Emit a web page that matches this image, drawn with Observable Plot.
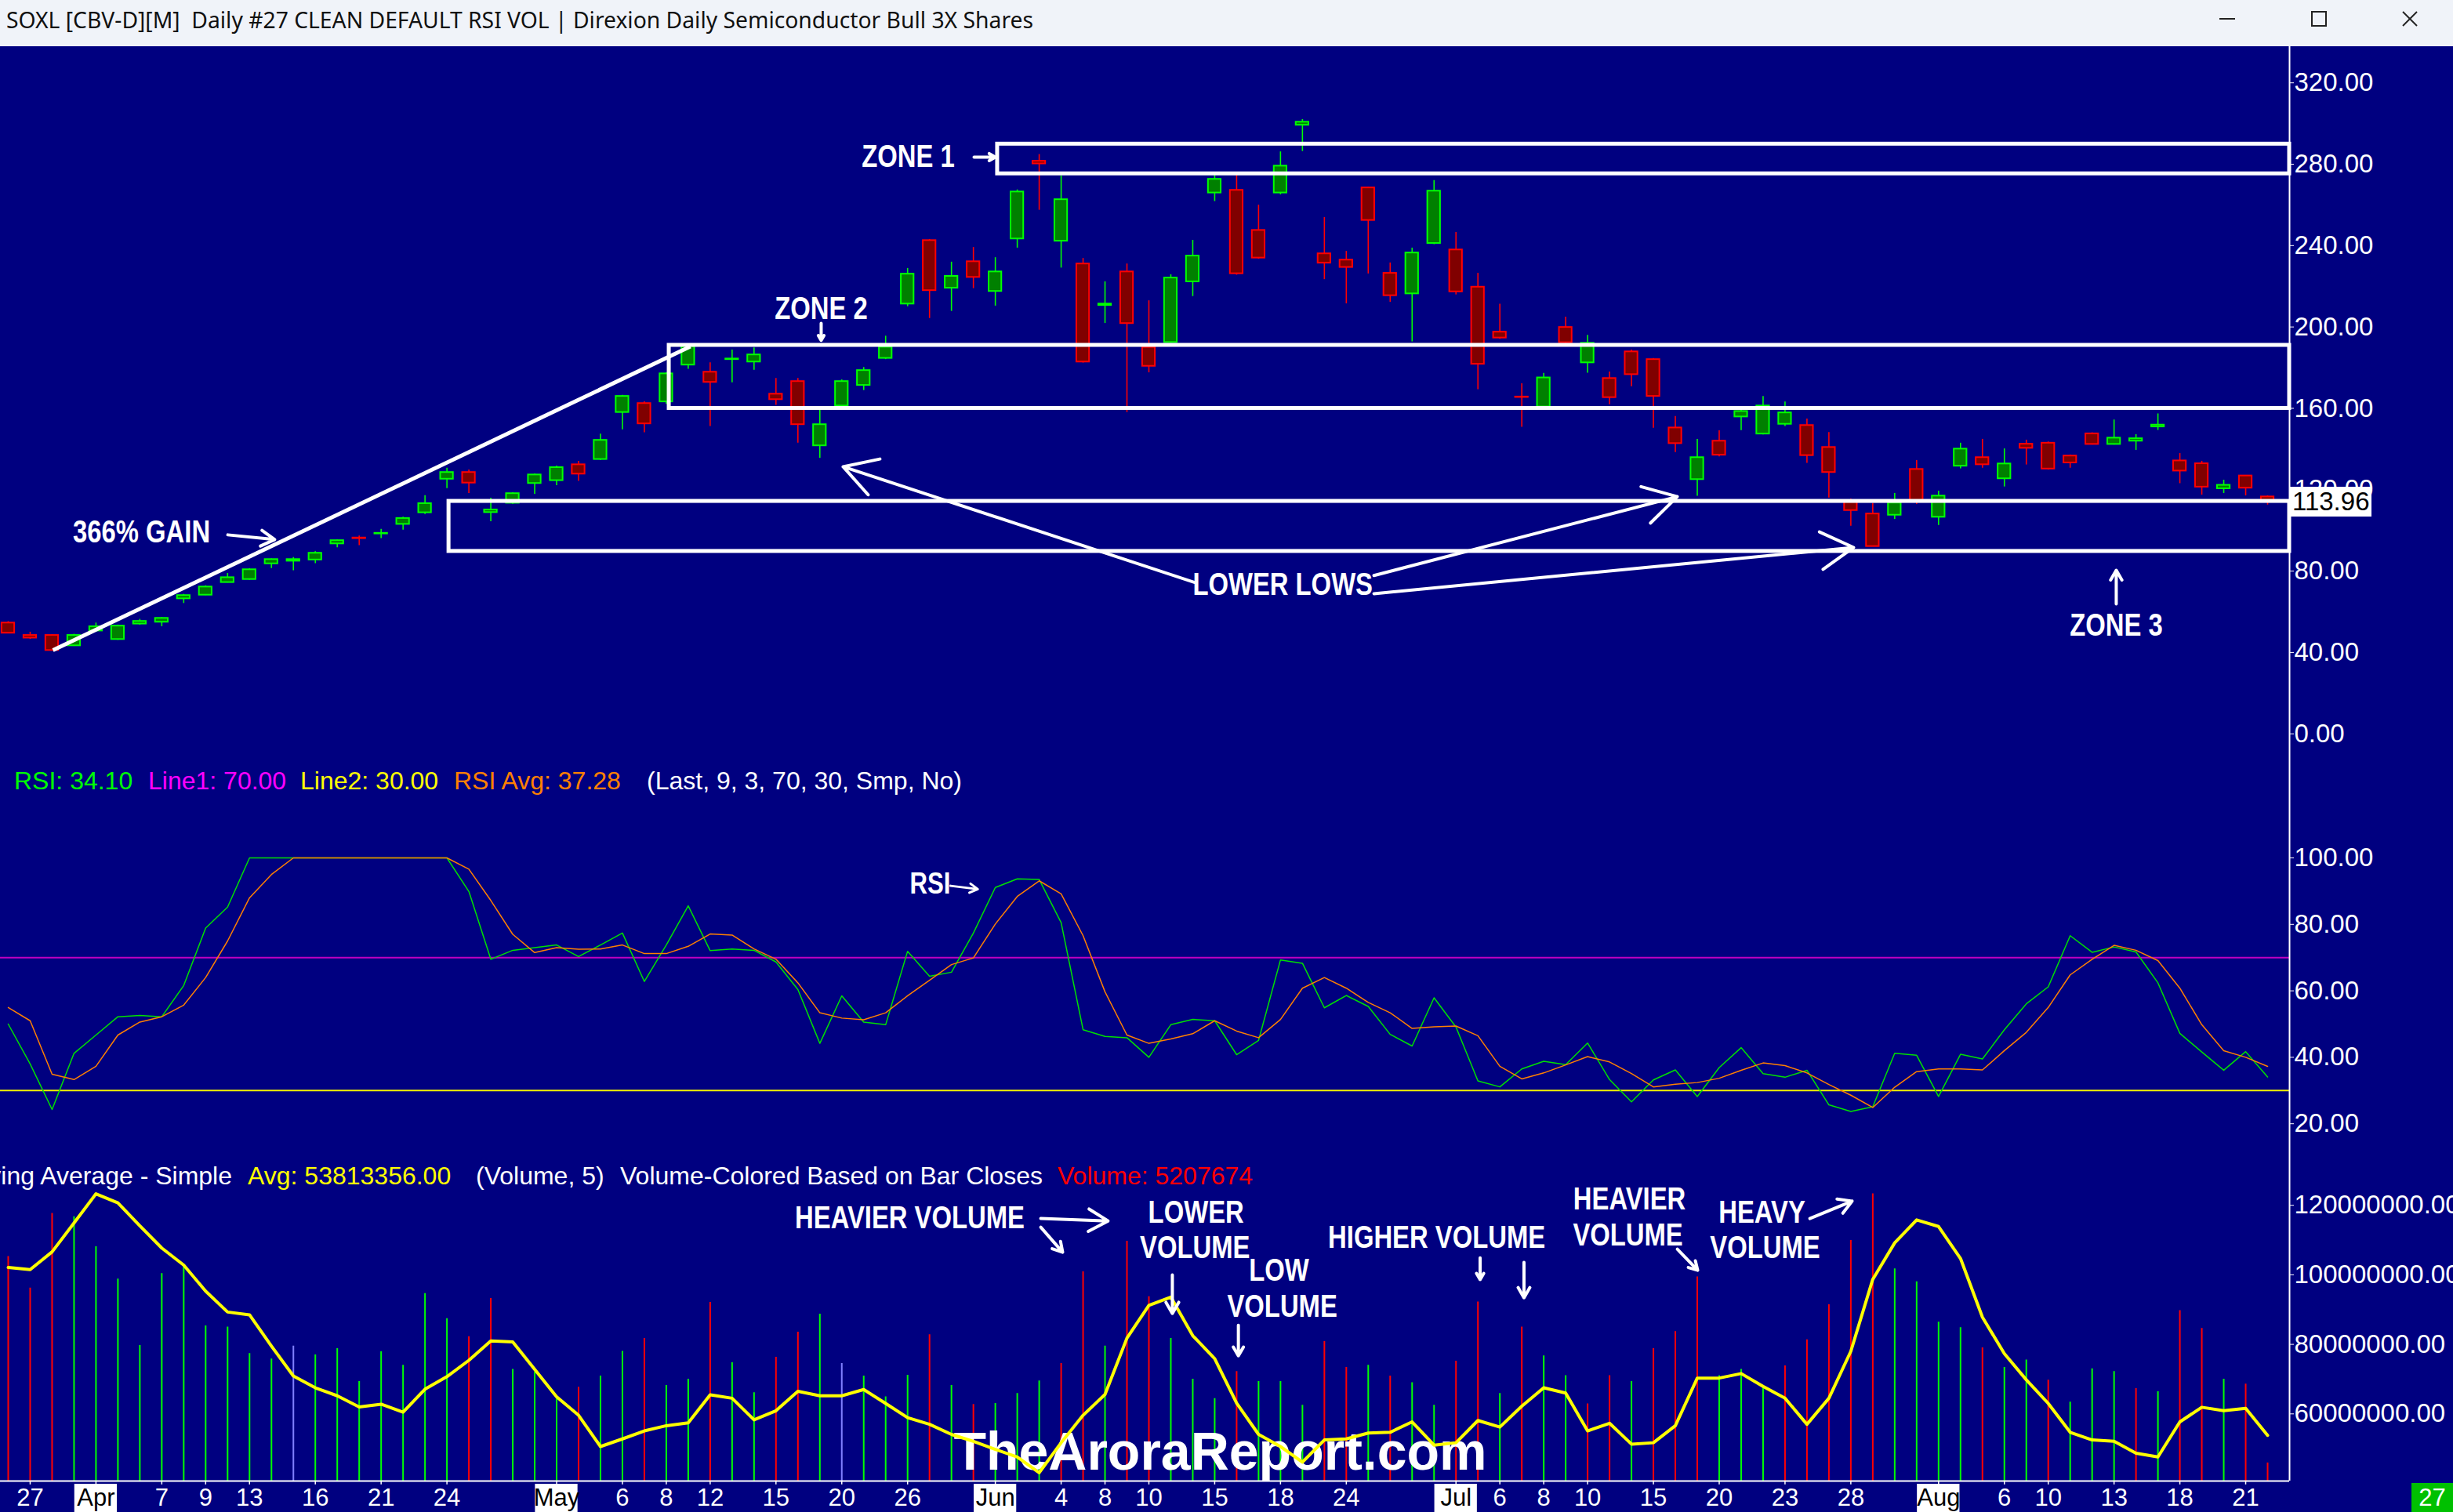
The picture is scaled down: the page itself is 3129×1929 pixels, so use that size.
<!DOCTYPE html>
<html><head><meta charset="utf-8">
<script src="https://cdn.jsdelivr.net/npm/d3@7"></script>
<script src="https://cdn.jsdelivr.net/npm/@observablehq/plot@0.6"></script>
<style>
html,body{margin:0;padding:0;background:#000080;}
#root{position:relative;width:3129px;height:1929px;background:#000080;overflow:hidden;font-family:"Liberation Sans",Arial,sans-serif;}
.leg{position:absolute;font-size:32px;line-height:36px;white-space:pre;}
</style></head><body><div id="root"></div>
<script>
// ---------------- DATA ----------------
const open = [54.5,48.4,48.4,43.3,50.6,46.4,54,54.9,66.4,68.2,
 74.4,75.9,83.6,84.9,85.5,93.4,96.3,98.3,103,108.7,
 125.2,128.5,108.8,113.4,123.1,124.5,132.3,134.9,158,162.4,
 163.2,181.3,177.8,184,182.8,167,173.2,141.6,161.2,171.3,
 184.6,211.3,242.5,219.1,232.1,217.5,243.3,281.5,242.2,231,
 210.6,227.1,190,192.4,222.2,265.9,267.2,247.5,265.9,299.2,
 236,232.9,268.4,226.4,216.3,241.1,237.9,219.6,197.5,165.6,
 160.7,199.8,182.4,174.7,187.8,184,150.4,125,143.9,155.8,
 147.4,152.2,151.6,140.8,114.3,108.1,107.5,130,106.5,131.6,
 135.8,125.4,142.4,142.9,136.6,147.5,142.3,143.9,150.9,134.2,
 132.8,120.5,126.8,116.5];
const high = [55.2,50,48.8,49,54.5,53.5,56.3,57.2,68.6,72.8,
 78.9,81.2,86,86.7,89.6,95.3,97.3,100.5,106.5,117.1,
 130.6,129.7,115.9,118.6,127.8,131.7,134,147.4,166.4,163.3,
 177.5,191.5,182.4,188.7,189.7,174.7,174.7,160.8,174,180.1,
 195.5,228.8,243,231.9,239.1,234.1,267.4,284.8,274.3,233.7,
 222.2,231,212.9,225.7,242.6,275,274.6,259.9,286.1,302,
 253.8,237.2,268.8,231.5,238.8,272,246.5,226.4,211.2,172.1,
 177.2,204.9,195.9,177.9,188.7,184.5,156,144.8,149,160.8,
 165.9,163.2,154.8,148.1,115.5,113.3,118.2,134.4,119.3,142.9,
 144.8,140.1,144.4,143.5,137.1,148,154.3,147.1,157.3,137.8,
 134,124.7,127,117];
const low = [49.2,46.5,40.8,43,50.4,46,53.5,52.7,64.1,68,
 74.2,75.6,81.3,80.2,83.7,91.5,92.6,96,100.2,107.9,
 120.6,118.2,104.3,112.9,117.8,122,124.1,134.5,149.5,148,
 162,179.2,151.1,172.6,178.8,161.5,142.9,135.5,160.5,168.8,
 184,210,204.2,207.7,218.9,210.3,238.8,257.4,229,182.3,
 201.8,158,177.5,192,215,261.7,225.5,233.4,265,286.3,
 223.3,211.4,226.1,212.2,192.7,240.5,215.8,169.2,194,150.7,
 159.5,191.5,177.3,161.8,170.7,150.3,138.3,116.8,136.2,149.1,
 147,151.1,133,116,102.1,92,105.5,112.8,102.5,130.3,
 130.6,121.4,132.2,129.7,130.6,142,142,139.4,149.2,123,
 117.4,118.2,117,112.5];
const close = [49.5,47.1,41.0,48.4,52.7,53,55.3,56.8,68,72.2,
 76.8,80.7,85.7,85.7,88.8,95,96.0,98.6,105.9,113.2,
 128.5,123.3,110.1,118.1,127.3,130.9,127.7,144.3,165.9,152.4,
 177,190.4,172.8,184.3,186.3,164.3,152,152,173.2,178.6,
 190.1,226,217.9,224.9,224.4,227.1,266.4,280.2,262.6,182.8,
 211.3,201.7,180.7,224.1,234.9,272.6,226.2,233.9,279.1,300.7,
 231.4,229.3,252.4,215.4,236.4,266.8,217.3,181.7,194.6,165.4,
 175,192.3,192.0,165.3,176.6,165.9,142.7,135.8,137,158.5,
 161.2,157.8,136.8,128.5,109.8,92.1,113.5,114.6,116.9,140,
 132.3,132.7,140.4,130.2,133.2,142.3,145.4,145.1,151.8,129.2,
 121.3,122.2,120.8,113.96];
const lastPrice = 113.96;

const rsi = [50,38,24.3,41.2,46.7,52.2,52.6,52.2,61.6,78.9,
 85.2,100,100,100,100,100,100,100,100,100,
 100,89.9,69.5,72.2,73,73.8,70.3,73.8,77.4,62.8,
 73.8,85.6,72.1,72.6,72.2,68.7,60.4,44.2,58.5,50.6,
 49.8,71.9,64.4,65.6,77.4,91.1,93.7,93.5,80.5,48.3,
 46.3,45.9,40,49.8,51.4,51,40.8,45.1,69.3,68.3,
 54.9,58.6,55.3,46.9,43.4,57.9,49.1,32.9,31.1,36.5,
 38.8,37.8,44.3,33.3,26.6,33.2,36.2,28.2,36.9,42.9,
 35.1,34,36.1,25.7,23.7,25.1,41.2,40.6,28.2,40.9,
 39.5,48.3,56.1,61.2,76.6,71.6,73.2,71.7,62.4,47.2,
 41.6,36.1,41.7,34.1];
const rsiAvg = [55,51,34.9,33.3,37.3,46.7,50.6,52.2,55.7,64,
 75,88,95,100,100,100,100,100,100,100,
 100,96.6,87.2,77,71.5,73,72.5,72.6,73.8,71.2,
 71.2,73.4,77.1,76.8,72.6,69.5,62.4,53.4,51.8,51.3,
 53.4,58.5,63.2,67.9,69.9,80.1,88.4,93.1,89.2,76.6,
 59.7,46.7,44.2,45.5,47.1,51,47.9,45.9,51.4,60.8,
 64,60.8,56.5,53.4,48.7,49.2,49.4,46.5,37.3,33.5,
 35.3,37.7,40.2,38.6,35.1,31.1,31.9,32.4,33.7,36.1,
 38.3,37.5,35.3,31.8,28.6,24.9,31,35.7,36.5,36.5,
 36.2,42,47.5,55,64.8,69.5,73.7,72.2,69.1,60.8,
 49.8,42,40,37.28];
const rsiLine1 = 70, rsiLine2 = 30;

// volume in millions of shares
const volume = [105.3,96.2,117.7,116.7,108.1,98.8,79.7,100.4,102.8,85.3,
 85.0,77.4,75.8,79.5,77.0,78.8,69.3,77.9,74.0,94.6,
 87.4,82.2,93.2,72.8,72.0,65.0,67.7,70.9,78.0,81.7,
 68.2,70.0,92.1,74.7,66.1,76.3,83.5,88.7,74.5,70.9,
 64.9,71.1,82.8,68.2,62.7,63.0,65.9,69.5,74.5,100.9,
 79.5,109.7,93.7,81.7,70.0,64.4,72.2,69.3,69.3,62.5,
 80.8,73.4,74.0,70.9,69.0,62.5,75.2,92.2,65.9,85.0,
 76.7,71.0,62.9,71.0,69.3,78.8,83.7,99.4,71.0,72.8,
 67.9,73.8,81.3,91.4,109.9,123.3,101.7,98.0,86.4,84.8,
 79.0,73.4,75.5,69.7,63.4,73.0,72.2,67.3,66.4,89.7,
 84.6,70.0,68.6,45.9];
const lastVolume = 5207674;
// close vs previous close: U up, D down, N unchanged
const volDir = "DDDUUUUUUU" + "UUUNUUUUUU" + "UDDUUUDUUD" + "UUDUUDDUNU" + "UUDUDUUUDD" +
  "UDDUUUDUUU" + "DDUDUUDDUD" + "UUDDUDDDUU" + "UDDDDDUUUU" + "DUUDUUUDUD" + "DUDD";
const volAvg = [102.1,101.5,106.6,114.9,123.3,120.7,114.1,107.7,102.8,95.3,
 89.3,88.5,79.5,70.9,67.5,65.2,62,62.8,60.5,67.1,
 70.7,75.4,81,80.7,72.8,64.9,59.6,50.6,52.8,55.1,
 56.6,57.4,65.5,64.5,58.3,60.9,66.5,65.2,65.2,67,
 63,58.9,57,54.1,52.1,49.8,47.6,43.1,51.7,59.6,
 65.6,81.8,91.2,93.6,82.5,75.9,63.1,54.1,50.6,46.1,
 52.5,52.8,54.5,54.7,57.7,51,51.7,58.1,56.2,62.2,
 67.5,66,55.1,57.3,51.3,51.7,56.6,70.3,70.3,71.6,
 67.9,64.5,57,64.5,78,98.7,109.2,115.8,113.9,104.7,
 87.8,77.3,69.8,63,54.7,52.5,52.1,48.7,47.6,57.7,
 61.9,60.9,61.6,53.813356];

const priceTicks = [0,40,80,120,160,200,240,280,320];
const rsiTicks = [20,40,60,80,100];
const volTicks = [60,80,100,120];

const dateTickIdx = [1,4,7,9,11,14,17,20,25,28,30,32,35,38,41,45,48,50,52,55,58,61,66,68,70,72,75,78,81,84,88,91,93,96,99,102];
const dateTickLabel = ["27","Apr","7","9","13","16","21","24","May","6","8","12","15","20","26","Jun","4","8","10","15","18","24","Jul","6","8","10","15","20","23","28","Aug","6","10","13","18","21"];
const monthNames = ["Apr","May","Jun","Jul","Aug"];
const currentDay = "27";

// zones (price bands drawn from a start bar to the right edge)
const zoneStart = [45.1, 30.13, 20.09];
const zoneHigh = [289.9, 191, 114.3];
const zoneLow = [275.3, 160, 89.7];

// annotations (bar index / value coordinates)
const trendLine = {x1: 2.04, y1: 41.1, x2: 31.1, y2: 190.4};
const priceNoteText = ["366% GAIN","ZONE 1","ZONE 2","LOWER LOWS","ZONE 3"];
const priceNoteX = [6.08, 41.03, 37.06, 58.1, 96.1];
const priceNoteY = [98.9, 283.5, 208.7, 73.1, 53.1];
const priceArrows = [
  {x1: 10.01, y1: 97.8, x2: 12.15, y2: 95.5},
  {x1: 44.03, y1: 283.5, x2: 45.0, y2: 283.5},
  {x1: 37.06, y1: 201.8, x2: 37.06, y2: 193.4},
  {x1: 54.15, y1: 74.2, x2: 38.06, y2: 131.3},
  {x1: 62.26, y1: 77.8, x2: 76.09, y2: 116.6},
  {x1: 62.26, y1: 68.9, x2: 84.13, y2: 91.6},
  {x1: 96.1, y1: 63.8, x2: 96.1, y2: 80.4}
];
const rsiNote = {x: 42.03, y: 92.2, text: "RSI"};
const rsiArrow = [{x1: 42.96, y1: 91.6, x2: 44.2, y2: 90.6}];
const volNoteText = ["HEAVIER VOLUME","LOWER","VOLUME","LOW","VOLUME","HIGHER VOLUME","HEAVIER","VOLUME","HEAVY","VOLUME"];
const volNoteX = [41.1, 54.15, 54.1, 57.93, 58.08, 65.12, 73.91, 73.84, 79.95, 80.09];
const volNoteY = [116.2, 117.8, 107.7, 101.1, 90.7, 110.6, 121.6, 111.3, 117.8, 107.7];
const volArrows = [
  {x1: 47.07, y1: 116.2, x2: 50.14, y2: 115.5},
  {x1: 47.07, y1: 113.7, x2: 48.07, y2: 106.5},
  {x1: 53.07, y1: 100, x2: 53.07, y2: 88.9},
  {x1: 56.08, y1: 85.5, x2: 56.08, y2: 76.7},
  {x1: 67.1, y1: 104.9, x2: 67.1, y2: 98.6},
  {x1: 69.1, y1: 103.6, x2: 69.1, y2: 93.4},
  {x1: 76.09, y1: 107.4, x2: 77.02, y2: 101.3},
  {x1: 82.13, y1: 116.2, x2: 84.06, y2: 121.2}
];
const watermark = {x: 55.25, y: 48.8, text: "TheAroraReport.com"};

// ---------------- LAYOUT ----------------
const W = 3129, MR = 209;
const XDOM = [-0.357, 104.0];
const REG = '"Liberation Sans", Arial, sans-serif';
const UPC = "#00ff00", DNC = "#ff0000";
const NARROW_FACTOR = 0.82;
const root = document.getElementById("root");

function place(el, top) {
  el.style.position = "absolute"; el.style.left = "0px"; el.style.top = top + "px";
  root.appendChild(el);
  // condense the hand-written annotation labels (narrow bold face)
  el.querySelectorAll('g[font-weight="800"] text').forEach(t => {
    const len = t.getComputedTextLength();
    t.setAttribute("textLength", (len * NARROW_FACTOR).toFixed(1));
    t.setAttribute("lengthAdjust", "spacingAndGlyphs");
  });
}
const baseStyle = {background: "none", color: "white", fontFamily: REG, fontSize: "33px", overflow: "visible"};
const notesOpts = {fill: "white", fontFamily: REG, fontWeight: 800, fontSize: 40};
const arrowOpts = {x1: "x1", y1: "y1", x2: "x2", y2: "y2", stroke: "white", strokeWidth: 4, headLength: 18};

// title bar
const tb = document.createElement("div");
tb.style.cssText = "position:absolute;left:0;top:0;width:3129px;height:59px;background:#f0f3f9;";
tb.innerHTML = `<svg width="3129" height="59" xmlns="http://www.w3.org/2000/svg">
 <text x="8" y="36" font-family="'Noto Sans','Open Sans',sans-serif" font-size="29" fill="#111" textLength="1310" lengthAdjust="spacingAndGlyphs" xml:space="preserve">SOXL [CBV-D][M]  Daily #27 CLEAN DEFAULT RSI VOL | Direxion Daily Semiconductor Bull 3X Shares</text>
 <line x1="2831" y1="24" x2="2851" y2="24" stroke="#222" stroke-width="2"/>
 <rect x="2949" y="15" width="18" height="18" fill="none" stroke="#222" stroke-width="2"/>
 <line x1="3065" y1="15" x2="3083" y2="33" stroke="#222" stroke-width="2"/>
 <line x1="3083" y1="15" x2="3065" y2="33" stroke="#222" stroke-width="2"/>
</svg>`;
root.appendChild(tb);

// ---------------- PRICE ----------------
const candles = open.map((o, i) => ({i, o, h: high[i], l: low[i], c: close[i], up: close[i] >= o}));
const zones = zoneStart.map((s, k) => ({x1: s, hi: zoneHigh[k], lo: zoneLow[k]}));
const priceNotes = priceNoteText.map((t, k) => ({t, x: priceNoteX[k], y: priceNoteY[k]}));

const PRICE_TOP = 59, PRICE_H = 916;
const pricePlot = Plot.plot({
  width: W, height: PRICE_H, marginLeft: 0, marginRight: MR, marginTop: 0, marginBottom: 0,
  x: {domain: XDOM, axis: null},
  y: {domain: [-15.14, 337.8], axis: null},
  style: baseStyle,
  marks: [
    Plot.ruleX(candles, {x: "i", y1: "l", y2: "h", stroke: d => d.up ? UPC : DNC, strokeWidth: 1.6}),
    Plot.rect(candles, {
      x1: d => d.i - 0.29, x2: d => d.i + 0.29,
      y1: d => Math.min(d.o, d.c), y2: d => Math.max(d.o, d.c),
      fill: d => d.up ? "#008000" : "#800000", stroke: d => d.up ? UPC : DNC, strokeWidth: 2
    }),
    Plot.rect(zones, {x1: "x1", x2: () => XDOM[1], y1: "lo", y2: "hi", fill: "none", stroke: "white", strokeWidth: 5}),
    Plot.link([trendLine], {x1: "x1", y1: "y1", x2: "x2", y2: "y2", stroke: "white", strokeWidth: 5}),
    Plot.arrow(priceArrows, arrowOpts),
    Plot.text(priceNotes, {x: "x", y: "y", text: "t", ...notesOpts}),
    Plot.axisY(priceTicks, {anchor: "right", tickFormat: d => d.toFixed(2), tickSize: 5, tickPadding: 1, fontSize: 33}),
    Plot.ruleX([XDOM[1]], {stroke: "white", strokeWidth: 2})
  ]
});
place(pricePlot, PRICE_TOP);

// last price box
const yP = pricePlot.scale("y").apply(lastPrice) + PRICE_TOP;
const lp = document.createElement("div");
lp.style.cssText = `position:absolute;left:2921px;top:${yP - 19}px;width:104px;height:38px;background:white;color:black;font-size:33px;line-height:38px;padding-left:3px;box-sizing:border-box;`;
lp.textContent = lastPrice.toFixed(2);
root.appendChild(lp);

// ---------------- RSI ----------------
const RSI_TOP = 975, RSI_H = 490;
const rsiData = rsi.map((v, i) => ({i, v, a: rsiAvg[i]}));
const rsiPlot = Plot.plot({
  width: W, height: RSI_H, marginLeft: 0, marginRight: MR, marginTop: 0, marginBottom: 0,
  x: {domain: XDOM, axis: null},
  y: {domain: [12.5, 128.07], axis: null},
  style: baseStyle,
  marks: [
    Plot.ruleY([rsiLine1], {stroke: "#c000c0", strokeWidth: 2}),
    Plot.ruleY([rsiLine2], {stroke: "#f0f000", strokeWidth: 2}),
    Plot.line(rsiData, {x: "i", y: "v", stroke: "#00e000", strokeWidth: 1.5}),
    Plot.line(rsiData, {x: "i", y: "a", stroke: "#ff8000", strokeWidth: 1.5}),
    Plot.text([rsiNote], {x: "x", y: "y", text: "text", ...notesOpts, fontSize: 38}),
    Plot.arrow(rsiArrow, {...arrowOpts, strokeWidth: 3, headLength: 12}),
    Plot.axisY(rsiTicks, {anchor: "right", tickFormat: d => d.toFixed(2), tickSize: 5, tickPadding: 1, fontSize: 33}),
    Plot.ruleX([XDOM[1]], {stroke: "white", strokeWidth: 2})
  ]
});
place(rsiPlot, RSI_TOP);

// RSI legend
const rsiLeg = [
  ["RSI: " + rsi[rsi.length - 1].toFixed(2), 18, "#00ff00"],
  ["Line1: " + rsiLine1.toFixed(2), 189, "#ff00ff"],
  ["Line2: " + rsiLine2.toFixed(2), 383, "#ffff00"],
  ["RSI Avg: " + rsiAvg[rsiAvg.length - 1].toFixed(2), 579, "#ff8000"],
  ["(Last, 9, 3, 70, 30, Smp, No)", 825, "#ffffff"]
];
for (const [t, x, c] of rsiLeg) {
  const s = document.createElement("div"); s.className = "leg";
  s.style.left = x + "px"; s.style.top = "978px"; s.style.color = c; s.textContent = t;
  root.appendChild(s);
}

// ---------------- VOLUME ----------------
const VOL_TOP = 1465, VOL_H = 424;
const volData = volume.map((v, i) => ({i, v, a: volAvg[i], d: volDir[i]}));
const volColor = {U: "#00ff00", D: "#ff0000", N: "#8080ff"};
const volNotes = volNoteText.map((t, k) => ({t, x: volNoteX[k], y: volNoteY[k]}));
const volPlot = Plot.plot({
  width: W, height: VOL_H, marginLeft: 0, marginRight: MR, marginTop: 0, marginBottom: 0,
  x: {domain: XDOM, axis: null},
  y: {domain: [40.68, 136.28], axis: null},
  style: baseStyle,
  marks: [
    Plot.ruleX(volData, {x: "i", y1: 0, y2: "v", stroke: d => volColor[d.d], strokeWidth: 2, clip: true}),
    Plot.text([watermark], {x: "x", y: "y", text: "text", fill: "white", fontFamily: REG, fontWeight: "bold", fontSize: 68}),
    Plot.line(volData, {x: "i", y: "a", stroke: "#ffff00", strokeWidth: 4}),
    Plot.text(volNotes, {x: "x", y: "y", text: "t", ...notesOpts}),
    Plot.arrow(volArrows, arrowOpts),
    Plot.axisY(volTicks, {anchor: "right", tickFormat: d => (d * 1e6).toFixed(2), tickSize: 5, tickPadding: 1, fontSize: 33}),
    Plot.ruleX([XDOM[1]], {stroke: "white", strokeWidth: 2})
  ]
});
place(volPlot, VOL_TOP);

// volume legend
const volLeg = [
  ["Moving Average - Simple", 296, "#ffffff", true],
  ["Avg: " + Math.round(volAvg[volAvg.length - 1] * 1e6).toFixed(2), 316, "#ffff00", false],
  ["(Volume, 5)", 607, "#ffffff", false],
  ["Volume-Colored Based on Bar Closes", 791, "#ffffff", false],
  ["Volume: " + lastVolume, 1349, "#ff0000", false]
];
for (const [t, x, c, right] of volLeg) {
  const s = document.createElement("div"); s.className = "leg";
  if (right) { s.style.right = (W - x) + "px"; } else { s.style.left = x + "px"; }
  s.style.top = "1482px"; s.style.color = c; s.textContent = t;
  root.appendChild(s);
}

// ---------------- DATE AXIS ----------------
const AX_TOP = 1887;
const dateTicks = dateTickIdx.map((i, k) => ({i, t: dateTickLabel[k], m: monthNames.includes(dateTickLabel[k])}));
const axPlot = Plot.plot({
  width: W, height: 42, marginLeft: 0, marginRight: MR, marginTop: 2, marginBottom: 0,
  x: {domain: XDOM, axis: null},
  y: {domain: [0, 1], axis: null},
  style: baseStyle,
  marks: [
    Plot.ruleY([1], {stroke: "white", strokeWidth: 2}),
    Plot.rect(dateTicks.filter(d => d.m), {x1: d => d.i - 0.97, x2: d => d.i + 0.97, y1: 0, y2: 0.9, fill: "white"}),
    Plot.ruleX(dateTicks, {x: "i", y1: 1, y2: 0.88, stroke: "white", strokeWidth: 1.5}),
    Plot.text(dateTicks, {x: "i", y: 0.46, text: "t", fill: d => d.m ? "black" : "white", fontSize: 31})
  ]
});
place(axPlot, AX_TOP);

const cur = document.createElement("div");
cur.style.cssText = "position:absolute;left:3076px;top:1892px;width:53px;height:37px;background:#00c000;color:white;font-size:31px;line-height:37px;text-align:center;";
cur.textContent = currentDay;
root.appendChild(cur);
</script></body></html>
